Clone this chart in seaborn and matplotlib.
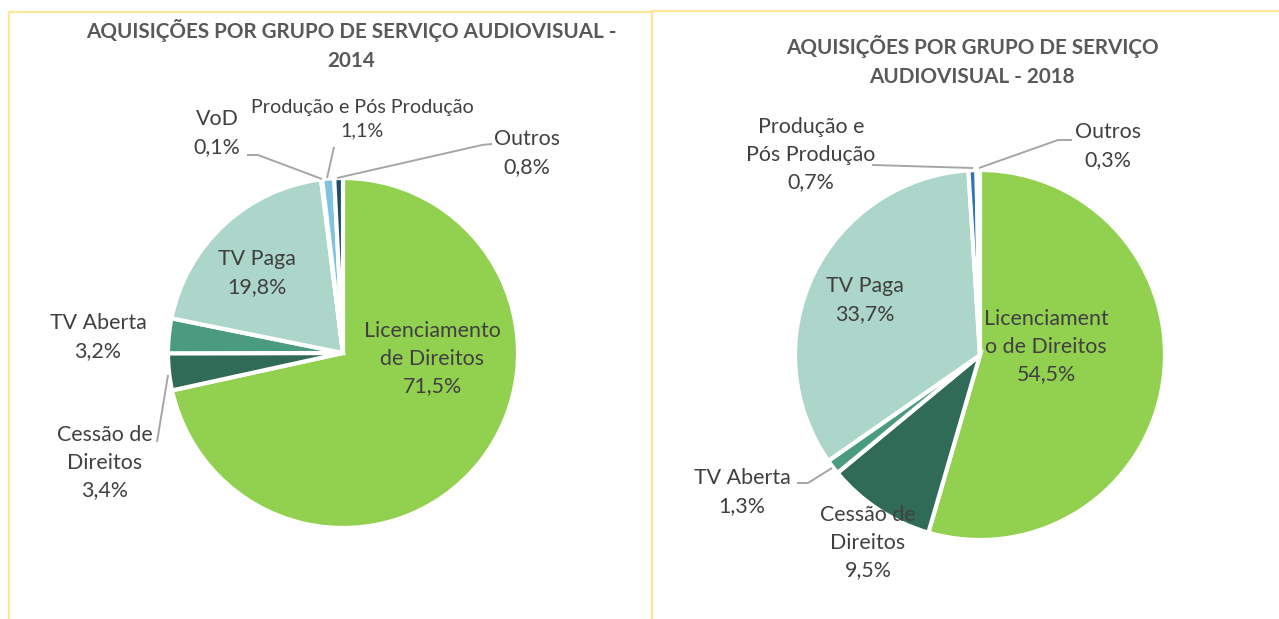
import matplotlib.pyplot as plt
from matplotlib.lines import Line2D
import seaborn as sns

sns.set_theme(style="white")
plt.rcParams['font.family'] = ['Lato', 'DejaVu Sans']

# dados
categorias_2014 = ["Licenciamento de Direitos", "Cessão de Direitos", "TV Aberta",
                   "TV Paga", "VoD", "Produção e Pós Produção", "Outros"]
valores_2014 = [71.5, 3.4, 3.2, 19.8, 0.1, 1.1, 0.8]
rotulos_2014 = ["Licenciamento\nde Direitos", "Cessão de\nDireitos", "TV Aberta",
                "TV Paga", "VoD", "Produção e Pós Produção", "Outros"]

categorias_2018 = ["Licenciamento de Direitos", "Cessão de Direitos", "TV Aberta",
                   "TV Paga", "Produção e Pós Produção", "Outros"]
valores_2018 = [54.5, 9.5, 1.3, 33.7, 0.7, 0.3]
rotulos_2018 = ["Licenciament\no de Direitos", "Cessão de\nDireitos", "TV Aberta",
                "TV Paga", "Produção e\nPós Produção", "Outros"]

cores_2014 = ["#92D050", "#2F6B57", "#4A9B80", "#ADD6CB", "#5B9BD5", "#7FC3E0", "#1F4E6B"]
cores_2018 = ["#92D050", "#2F6B57", "#4A9B80", "#ADD6CB", "#2E75B6", "#1F4E6B"]

titulo_2014 = "AQUISIÇÕES POR GRUPO DE SERVIÇO AUDIOVISUAL -\n2014"
titulo_2018 = "AQUISIÇÕES POR GRUPO DE SERVIÇO\nAUDIOVISUAL - 2018"

# layout (pixels, origem no canto superior esquerdo)
W, H = 1279, 619
pos_rotulos_2014 = [(432, 359), (105, 463), (98, 337), (257, 273), (217, 133), (362, 119), (527, 153)]
tam_rotulos_2014 = [15.4, 15.4, 15.4, 15.4, 15.4, 14.2, 15.4]
pos_rotulos_2018 = [(1046, 347), (868, 543), (742, 492), (865, 300), (811, 155), (1108, 146)]
tam_rotulos_2018 = [15.4] * 6

linhas_guia = [
    [(157, 442), (168, 375)],
    [(247, 155), (258, 155), (322, 179)],
    [(334, 147), (327, 178)],
    [(492, 144), (482, 145), (337, 178)],
    [(872, 165), (973, 168)],
    [(1072, 140), (1058, 140), (979, 168)],
    [(797, 483), (808, 483), (832, 468)],
]


def fmt(v):
    return f"{v:.1f}%".replace(".", ",")


fig = plt.figure(figsize=(12.79, 6.19), dpi=100)
ax = fig.add_axes([0, 0, 1, 1])

for valores, cores, centro, raio in [(valores_2014, cores_2014, (343, 353), 175),
                                     (valores_2018, cores_2018, (980, 355), 185)]:
    ax.pie(valores, colors=cores, startangle=90, counterclock=False,
           center=(centro[0], H - centro[1]), radius=raio,
           wedgeprops=dict(edgecolor="white", linewidth=3))

for rotulos, valores, pos, tams in [(rotulos_2014, valores_2014, pos_rotulos_2014, tam_rotulos_2014),
                                    (rotulos_2018, valores_2018, pos_rotulos_2018, tam_rotulos_2018)]:
    for r, v, (x, y), t in zip(rotulos, valores, pos, tams):
        ax.text(x, H - y, f"{r}\n{fmt(v)}", ha="center", va="center",
                fontsize=t, color="#404040", linespacing=1.47)

for pts in linhas_guia:
    xs = [p[0] for p in pts]
    ys = [H - p[1] for p in pts]
    ax.plot(xs, ys, color="#A6A6A6", lw=1.4, solid_capstyle="butt")

ax.text(351, H - 45, titulo_2014, ha="center", va="center", fontsize=14.9,
        fontweight="bold", color="#595959", linespacing=1.58)
ax.text(972, H - 61, titulo_2018, ha="center", va="center", fontsize=14.9,
        fontweight="bold", color="#595959", linespacing=1.58)

ax.set_xlim(0, W)
ax.set_ylim(0, H)
ax.set_aspect("auto")
ax.axis("off")

# bordas das áreas dos gráficos
borda = "#FFE699"
for xs, ys in [((9, 9), (12, H)), ((9, 652), (12, 12)), ((652, 652), (12, H)), ((652, W), (11, 11))]:
    fig.add_artist(Line2D([x / W for x in xs], [1 - y / H for y in ys],
                          color=borda, lw=1.6, transform=fig.transFigure))

fig.savefig("out.png", dpi=100, facecolor="white")
